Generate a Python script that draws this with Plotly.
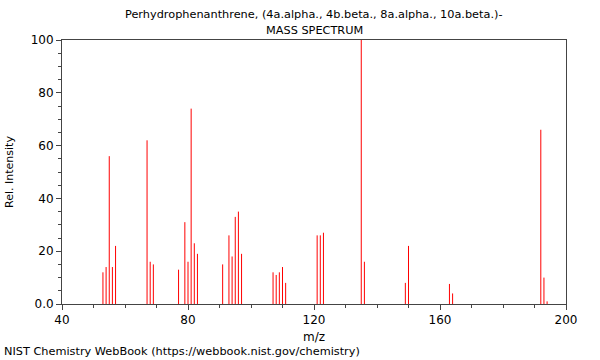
import plotly.graph_objects as go

mz = [53, 54, 55, 56, 57, 67, 68, 69, 77, 79, 80, 81, 82, 83,
      91, 93, 94, 95, 96, 97, 107, 108, 109, 110, 111,
      121, 122, 123, 135, 136, 149, 150, 163, 164, 192, 193, 194]
intensity = [12, 14, 56, 14, 22, 62, 16, 15, 13, 31, 16, 74, 23, 19,
             15, 26, 18, 33, 35, 19, 12, 11, 12, 14, 8,
             26, 26, 27, 100, 16, 8, 22, 7.6, 4, 66, 10, 1]

x_major = [40, 80, 120, 160, 200]
y_major = [0, 20, 40, 60, 80, 100]
y_labels = ["0.0", "20", "40", "60", "80", "100"]

title_line1 = "Perhydrophenanthrene, (4a.alpha., 4b.beta., 8a.alpha., 10a.beta.)-"
title_line2 = "MASS SPECTRUM"
credit = "NIST Chemistry WebBook (https://webbook.nist.gov/chemistry)"

xs, ys = [], []
for m, i in zip(mz, intensity):
    xs += [m, m, None]
    ys += [0, i, None]

fig = go.Figure()
fig.add_trace(go.Scatter(x=xs, y=ys, mode="lines",
                         line=dict(color="#ff0000", width=1),
                         hoverinfo="skip", showlegend=False))

axis_color = "#444444"
fig.update_layout(
    width=600, height=360,
    margin=dict(l=62, r=34, t=40, b=56, autoexpand=False),
    paper_bgcolor="white", plot_bgcolor="white",
    font=dict(family="DejaVu Sans", size=11, color="#000000"),
    xaxis=dict(range=[40, 200], tickvals=x_major, showgrid=False, zeroline=False,
               showline=True, linecolor=axis_color, linewidth=1, mirror=True,
               ticks="outside", ticklen=5, tickcolor=axis_color, automargin=False,
               minor=dict(dtick=10, ticks="outside", ticklen=3, tickcolor=axis_color),
               tickfont=dict(size=12),
               title=dict(text="m/z", font=dict(size=12), standoff=6)),
    yaxis=dict(range=[0, 100], tickvals=y_major, ticktext=y_labels, showgrid=False,
               zeroline=False, showline=True, linecolor=axis_color, linewidth=1,
               mirror=True, ticks="outside", ticklen=5, tickcolor=axis_color,
               automargin=False,
               minor=dict(dtick=5, ticks="outside", ticklen=3, tickcolor=axis_color),
               tickfont=dict(size=12),
               title=dict(text="Rel. Intensity", font=dict(size=11), standoff=14)),
    annotations=[
        dict(text=title_line1, xref="paper", yref="paper", x=0.5, y=1,
             xanchor="center", yanchor="middle", yshift=26, showarrow=False,
             font=dict(size=11.3)),
        dict(text=title_line2, xref="paper", yref="paper", x=0.5, y=1,
             xanchor="center", yanchor="middle", yshift=10, showarrow=False,
             font=dict(size=11.3)),
        dict(text=credit, xref="paper", yref="paper", x=0, y=0,
             xanchor="left", yanchor="bottom", xshift=-60, yshift=-56,
             showarrow=False, font=dict(size=11.3)),
    ],
)

fig.write_html("out.html", config={"displayModeBar": False},
               post_script="document.body.style.margin='0';")
